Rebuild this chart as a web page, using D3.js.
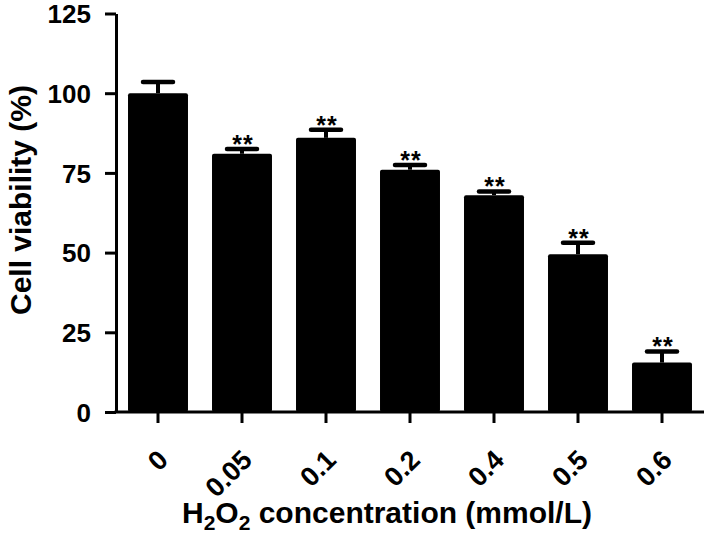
<!DOCTYPE html>
<meta charset="utf-8">
<script src="https://d3js.org/d3.v7.min.js"></script>
<body style="margin:0;background:#fff">
<svg width="709" height="534"></svg>
<script>
    var doses   = ['0', '0.05', '0.1', '0.2', '0.4', '0.5', '0.6'];
    var means   = [100, 81, 86, 76, 68, 49.5, 15.5];
    var sems    = [3.5, 1.5, 2.5, 1.5, 1.2, 3.6, 3.5];
    var signif  = ['', '**', '**', '**', '**', '**', '**'];
    var yTicks  = [0, 25, 50, 75, 100, 125];

    var svg    = d3.select('svg');
    var mLeft  = 116, mRight = 704, mTop = 13.5, mBottom = 412;
    var font   = 'Liberation Sans, Arial, sans-serif';

    var x = d3.scaleBand().domain(doses).range([mLeft, mRight]).paddingInner(0.286).paddingOuter(0.143);
    var y = d3.scaleLinear().domain([0, 125]).range([mBottom, mTop]);

    // bars
    svg.selectAll('rect.bar').data(doses).enter().append('rect')
        .attr('class', 'bar')
        .attr('x', function(d){ return x(d); })
        .attr('y', function(d, i){ return y(means[i]); })
        .attr('width', x.bandwidth())
        .attr('height', function(d, i){ return y(0) - y(means[i]); })
        .attr('rx', 2)
        .attr('fill', '#000');

    // error bars
    var err = svg.selectAll('g.err').data(doses).enter().append('g').attr('class', 'err');
    err.append('line')
        .attr('x1', function(d){ return x(d) + x.bandwidth() / 2; })
        .attr('x2', function(d){ return x(d) + x.bandwidth() / 2; })
        .attr('y1', function(d, i){ return y(means[i]); })
        .attr('y2', function(d, i){ return y(means[i] + sems[i]); })
        .attr('stroke', '#000').attr('stroke-width', 4);
    err.append('line')
        .attr('x1', function(d){ return x(d) + x.bandwidth() / 2 - 15; })
        .attr('x2', function(d){ return x(d) + x.bandwidth() / 2 + 15; })
        .attr('y1', function(d, i){ return y(means[i] + sems[i]); })
        .attr('y2', function(d, i){ return y(means[i] + sems[i]); })
        .attr('stroke', '#000').attr('stroke-width', 4.5).attr('stroke-linecap', 'round');

    // significance marks
    svg.selectAll('text.sig').data(doses).enter().append('text')
        .attr('class', 'sig')
        .attr('x', function(d){ return x(d) + x.bandwidth() / 2 + 1; })
        .attr('y', function(d, i){ return y(means[i] + sems[i]) + 4; })
        .attr('text-anchor', 'middle')
        .style('font', 'bold 25px ' + font)
        .style('letter-spacing', '1px')
        .text(function(d, i){ return signif[i]; });

    // y axis
    var yAxis = svg.append('g').attr('transform', 'translate(' + mLeft + ',0)')
        .call(d3.axisLeft(y).tickValues(yTicks).tickSize(11).tickPadding(14).tickSizeOuter(0));
    yAxis.select('.domain').attr('stroke-width', 3);
    yAxis.selectAll('.tick line').attr('stroke-width', 3);
    yAxis.selectAll('.tick text').style('font', 'bold 26px ' + font).attr('dy', '0.35em');

    // x axis
    var xAxis = svg.append('g').attr('transform', 'translate(0,' + mBottom + ')')
        .call(d3.axisBottom(x).tickSize(11).tickSizeOuter(0));
    xAxis.select('.domain').attr('stroke-width', 3).attr('d', 'M' + (mLeft - 1.5) + ',0H' + mRight);
    xAxis.selectAll('.tick line').attr('stroke-width', 3);
    xAxis.selectAll('.tick text')
        .style('font', 'bold 27px ' + font)
        .attr('text-anchor', 'end')
        .attr('dy', '0.35em')
        .attr('transform', 'translate(5,43) rotate(-45)')
        .attr('y', 0).attr('x', 0);

    // axis titles
    var title = svg.append('text')
        .attr('x', 387).attr('y', 523)
        .attr('text-anchor', 'middle')
        .style('font', 'bold 30px ' + font);
    title.append('tspan').text('H');
    title.append('tspan').text('2').attr('dy', 7).style('font-size', '21px');
    title.append('tspan').text('O').attr('dy', -7);
    title.append('tspan').text('2').attr('dy', 7).style('font-size', '21px');
    title.append('tspan').text(' concentration (mmol/L)').attr('dy', -7);

    svg.append('text')
        .attr('transform', 'translate(31,200) rotate(-90)')
        .attr('text-anchor', 'middle')
        .style('font', 'bold 30px ' + font)
        .text('Cell viability (%)');
</script>
</body>
